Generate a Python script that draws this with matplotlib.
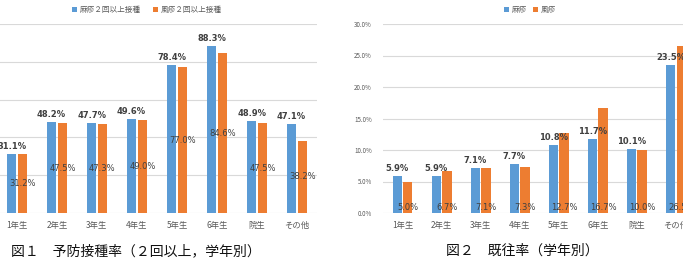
import matplotlib.pyplot as plt
import numpy as np

plt.rcParams['font.family'] = ['Noto Sans CJK JP', 'DejaVu Sans']

# data
grades = ['1年生', '2年生', '3年生', '4年生', '5年生', '6年生', '院生', 'その他']

vacc_measles = [31.1, 48.2, 47.7, 49.6, 78.4, 88.3, 48.9, 47.1]
vacc_rubella = [31.2, 47.5, 47.3, 49.0, 77.0, 84.6, 47.5, 38.2]

hist_measles = [5.9, 5.9, 7.1, 7.7, 10.8, 11.7, 10.1, 23.5]
hist_rubella = [5.0, 6.7, 7.1, 7.3, 12.7, 16.7, 10.0, 26.5]

blue = '#5B9BD5'
orange = '#ED7D31'
grid_c = '#D9D9D9'
txt_c = '#404040'

fig = plt.figure(figsize=(6.83, 2.59), dpi=100)
W, H = 683, 259


def px_axes(x0, x1, y_top, y_bot):
    return fig.add_axes([x0 / W, 1 - y_bot / H, (x1 - x0) / W, (y_bot - y_top) / H])


def style(ax):
    for s in ax.spines.values():
        s.set_visible(False)
    ax.yaxis.grid(True, color=grid_c, linewidth=0.8)
    ax.set_axisbelow(True)
    ax.tick_params(axis='both', length=0)
    ax.tick_params(axis='x', labelsize=6, colors='#595959', pad=6)
    ax.set_xlim(-0.5, len(grades) - 0.5)
    ax.set_xticks(np.arange(len(grades)))
    ax.set_xticklabels(grades)


x = np.arange(len(grades))
w = 0.24
off = 0.135

# 図1 予防接種率
ax1 = px_axes(-3, 317, 24, 213)
style(ax1)
ax1.set_ylim(0, 100)
ax1.set_yticks(np.arange(0, 101, 20))
ax1.set_yticklabels([])
b1 = ax1.bar(x - off, vacc_measles, w, color=blue, label='麻疹２回以上接種')
b2 = ax1.bar(x + off, vacc_rubella, w, color=orange, label='風疹２回以上接種')
for xi, v in zip(x, vacc_measles):
    ax1.text(xi - off, v + 1.5, f'{v:.1f}%', ha='center', va='bottom',
             fontsize=6, fontweight='bold', color=txt_c, family='DejaVu Sans')
for xi, v in zip(x, vacc_rubella):
    ax1.text(xi + off, v / 2, f'{v:.1f}%', ha='center', va='center',
             fontsize=6, color=txt_c, family='DejaVu Sans')
ax1.legend(loc='center', bbox_to_anchor=(150 / 320, 1 + 14 / 189), ncol=2,
           frameon=False, fontsize=5.5, handlelength=0.7, handleheight=0.7,
           handletextpad=0.4, columnspacing=1.5, labelcolor='#595959')

# 図2 既往率
ax2 = px_axes(383, 695.5, 24, 213)
style(ax2)
ax2.set_ylim(0, 30)
ax2.set_yticks(np.arange(0, 31, 5))
ax2.set_yticklabels([f'{t:.1f}%' for t in np.arange(0, 31, 5)])
ax2.tick_params(axis='y', labelsize=4.5, colors='#595959', pad=8)
ax2.bar(x - off, hist_measles, w, color=blue, label='麻疹')
ax2.bar(x + off, hist_rubella, w, color=orange, label='風疹')
for xi, v in zip(x, hist_measles):
    ax2.text(xi - off, v + 0.5, f'{v:.1f}%', ha='center', va='bottom',
             fontsize=6, fontweight='bold', color=txt_c, family='DejaVu Sans')
for xi, v in zip(x, hist_rubella):
    ax2.text(xi + off, 0.9, f'{v:.1f}%', ha='center', va='center',
             fontsize=6, color=txt_c, family='DejaVu Sans')
ax2.legend(loc='center', bbox_to_anchor=((530 - 383) / 312.5, 1 + 14 / 189), ncol=2,
           frameon=False, fontsize=5.5, handlelength=0.7, handleheight=0.7,
           handletextpad=0.3, columnspacing=0.8, labelcolor='#595959')

# captions
fig.text(136 / W, 1 - 251 / H, '図１　予防接種率（２回以上，学年別）',
         ha='center', va='center', fontsize=10, color='#111111')
fig.text(522 / W, 1 - 251 / H, '図２　既往率（学年別）',
         ha='center', va='center', fontsize=10, color='#111111')

fig.savefig('out.png', dpi=100)
